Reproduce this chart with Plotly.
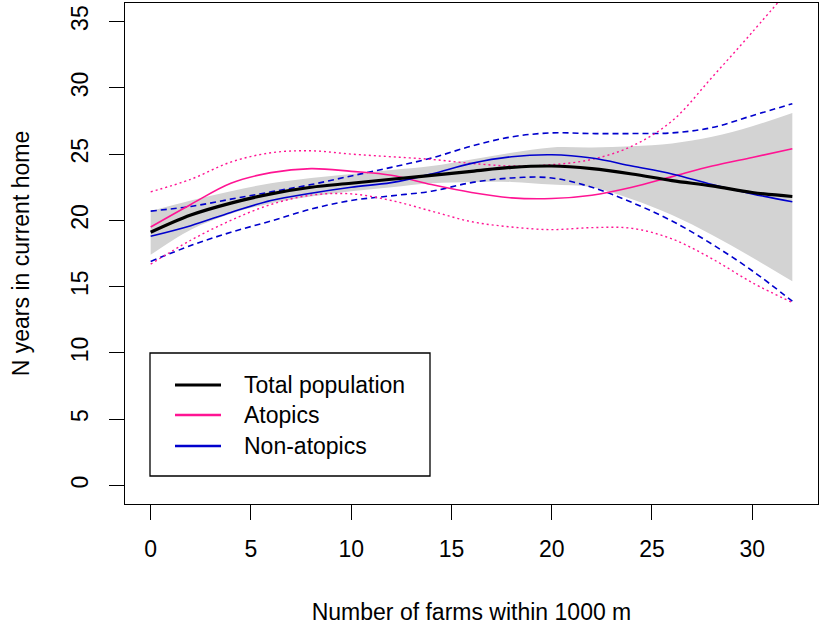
import plotly.graph_objects as go

# ---- data ----
farms = [0, 2, 4, 6, 8, 10, 12, 14, 16, 18, 20, 22, 24, 26, 28, 30, 32]

total_fit = [19.1, 20.4, 21.3, 22.0, 22.5, 22.8, 23.1, 23.4, 23.7, 24.0, 24.1, 23.9, 23.5, 23.0, 22.6, 22.1, 21.8]
total_hi = [20.7, 21.5, 22.2, 22.8, 23.2, 23.5, 23.8, 24.1, 24.6, 25.1, 25.5, 25.5, 25.6, 25.8, 26.3, 27.1, 28.1]
total_lo = [17.4, 19.3, 20.5, 21.3, 21.8, 22.2, 22.5, 22.8, 22.9, 22.9, 22.7, 22.5, 21.6, 20.4, 18.9, 17.2, 15.4]

atopic_fit = [19.5, 21.2, 22.8, 23.6, 23.9, 23.7, 23.4, 22.7, 22.1, 21.7, 21.65, 21.9, 22.5, 23.3, 24.1, 24.75, 25.4]
atopic_hi = [22.15, 23.1, 24.4, 25.1, 25.25, 25.0, 24.8, 24.6, 24.3, 24.1, 24.2, 24.6, 25.6, 27.5, 30.8, 34.2, 37.7]
atopic_lo = [16.7, 18.5, 20.0, 21.2, 21.9, 22.0, 21.5, 20.7, 19.9, 19.5, 19.3, 19.45, 19.4, 18.6, 17.1, 15.3, 13.8]

nonatopic_fit = [18.8, 19.6, 20.6, 21.5, 22.05, 22.5, 22.85, 23.5, 24.3, 24.8, 24.95, 24.7, 24.1, 23.5, 22.7, 22.0, 21.4]
nonatopic_hi = [20.7, 21.05, 21.6, 22.15, 22.7, 23.35, 24.0, 24.7, 25.6, 26.3, 26.6, 26.55, 26.55, 26.6, 27.0, 27.9, 28.8]
nonatopic_lo = [16.9, 18.1, 19.1, 19.95, 20.85, 21.5, 21.85, 22.2, 22.85, 23.2, 23.2, 22.5, 21.35, 19.95, 18.2, 16.2, 13.9]

x_ticks = [0, 5, 10, 15, 20, 25, 30]
y_ticks = [0, 5, 10, 15, 20, 25, 30, 35]
legend_labels = ["Total population", "Atopics", "Non-atopics"]
legend_colors = ["black", "#FF1493", "#0000CD"]

PINK = "#FF1493"
BLUE = "#0000CD"
FONT = "Liberation Sans, Arial, sans-serif"

fig = go.Figure()

# grey confidence band for total population
fig.add_trace(go.Scatter(x=farms, y=total_hi, mode="lines", line=dict(width=0, shape="spline"),
                         showlegend=False, hoverinfo="skip"))
fig.add_trace(go.Scatter(x=farms, y=total_lo, mode="lines", line=dict(width=0, shape="spline"),
                         fill="tonexty", fillcolor="#D3D3D3", showlegend=False, hoverinfo="skip"))

# non-atopic CI (dashed blue)
fig.add_trace(go.Scatter(x=farms, y=nonatopic_hi, mode="lines", line=dict(color=BLUE, width=1.6, dash="6px,4px", shape="spline"),
                         showlegend=False))
fig.add_trace(go.Scatter(x=farms, y=nonatopic_lo, mode="lines", line=dict(color=BLUE, width=1.6, dash="6px,4px", shape="spline"),
                         showlegend=False))
# atopic CI (dotted pink)
fig.add_trace(go.Scatter(x=farms, y=atopic_hi, mode="lines", line=dict(color=PINK, width=1.4, dash="2px,3px", shape="spline"),
                         showlegend=False))
fig.add_trace(go.Scatter(x=farms, y=atopic_lo, mode="lines", line=dict(color=PINK, width=1.4, dash="2px,3px", shape="spline"),
                         showlegend=False))

# fits
fig.add_trace(go.Scatter(x=farms, y=atopic_fit, mode="lines", name=legend_labels[1],
                         line=dict(color=PINK, width=1.6, shape="spline"), showlegend=False))
fig.add_trace(go.Scatter(x=farms, y=nonatopic_fit, mode="lines", name=legend_labels[2],
                         line=dict(color=BLUE, width=1.6, shape="spline"), showlegend=False))
fig.add_trace(go.Scatter(x=farms, y=total_fit, mode="lines", name=legend_labels[0],
                         line=dict(color="black", width=3.2, shape="spline"), showlegend=False))

# ---- manual R-style legend ----
L, R, B, T = 125, 818, 504, 3
W, H = R - L, B - T
def px(xp):
    return (xp - L) / W
def py(yp):
    return (B - yp) / H

shapes = [dict(type="rect", xref="paper", yref="paper",
               x0=px(150), x1=px(430), y0=py(476), y1=py(353),
               line=dict(color="black", width=1.3), fillcolor="white", layer="above")]
annotations = []
rows = [385, 415, 446]
for lab, col, yr in zip(legend_labels, legend_colors, rows):
    shapes.append(dict(type="line", xref="paper", yref="paper",
                       x0=px(175), x1=px(221), y0=py(yr), y1=py(yr),
                       line=dict(color=col, width=3 if col == "black" else 2.4), layer="above"))
    annotations.append(dict(xref="paper", yref="paper", x=px(242), y=py(yr),
                            text=lab, showarrow=False, xanchor="left", yanchor="middle",
                            font=dict(family=FONT, size=23, color="black")))

fig.update_layout(
    width=822, height=629,
    margin=dict(l=L, r=822 - R, t=T, b=629 - B),
    paper_bgcolor="white", plot_bgcolor="white",
    font=dict(family=FONT, size=23, color="black"),
    shapes=shapes, annotations=annotations,
    showlegend=False,
)
fig.update_xaxes(
    range=[-1.28, 33.28], tickvals=x_ticks, ticktext=[str(v) for v in x_ticks],
    automargin=False,
    showgrid=False, zeroline=False, showline=True, mirror=True,
    linecolor="black", linewidth=1.3, ticks="outside", ticklen=15, tickwidth=1.3,
    tickcolor="black", tickfont=dict(size=23, family=FONT), ticklabelstandoff=9,
    title=dict(text="Number of farms within 1000 m", standoff=43, font=dict(size=23, family=FONT)),
)
fig.update_yaxes(
    range=[-1.4, 36.4], tickvals=y_ticks, ticktext=[str(v) for v in y_ticks],
    automargin=False,
    showgrid=False, zeroline=False, showline=True, mirror=True,
    linecolor="black", linewidth=1.3, ticks="outside", ticklen=15, tickwidth=1.3,
    tickcolor="black", tickfont=dict(size=23, family=FONT), tickangle=-90, ticklabelstandoff=12,
    title=dict(text="N years in current home", standoff=30, font=dict(size=23, family=FONT)),
)

fig.write_html("out.html", config={"displayModeBar": False},
               post_script="document.body.style.margin='0';document.body.style.overflow='hidden';")
